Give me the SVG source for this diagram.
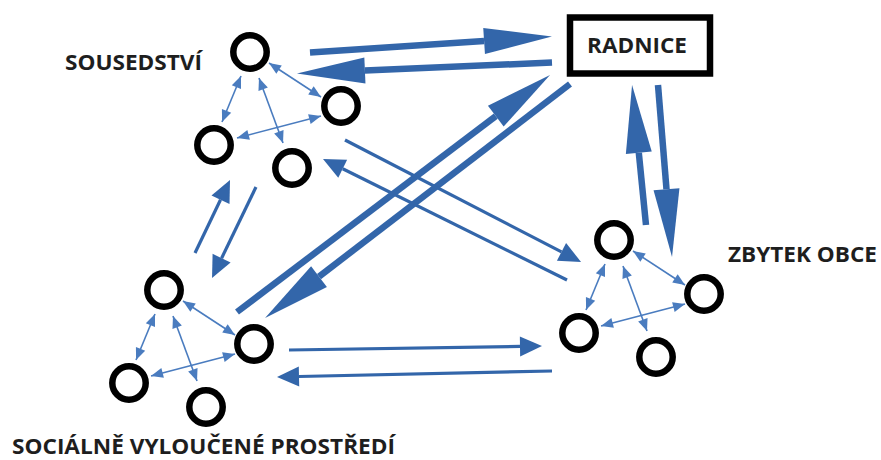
<svg xmlns="http://www.w3.org/2000/svg" width="881" height="460" viewBox="0 0 881 460">
  <style>
    .node { fill: none; stroke: #000; stroke-width: 6.5; }
    .lbl { font-family: "Open Sans", "Liberation Sans", sans-serif; font-weight: bold; font-size: 21px; fill: #1e1e1e; }
    .big { stroke: #3366aa; stroke-width: 6.5; fill: none; marker-end: url(#headBig); }
    .mid { stroke: #3366aa; stroke-width: 3.2; fill: none; marker-end: url(#headMid); }
    .small { stroke: #4a7cbf; stroke-width: 1.6; fill: none; marker-start: url(#headSmall); marker-end: url(#headSmall); }
  </style>
  <defs>
    <!-- heads anchored at their base so the shaft stops there -->
    <marker id="headBig" markerUnits="userSpaceOnUse" markerWidth="70" markerHeight="28" refX="0" refY="13" orient="auto" overflow="visible">
      <path d="M0,0 L68,13 L0,26 Z" fill="#3366aa"/>
    </marker>
    <marker id="headMid" markerUnits="userSpaceOnUse" markerWidth="24" markerHeight="20" refX="0" refY="10" orient="auto" overflow="visible">
      <path d="M0,0 L22,10 L0,20 Z" fill="#3366aa"/>
    </marker>
    <marker id="headSmall" markerUnits="userSpaceOnUse" markerWidth="13" markerHeight="11" refX="12" refY="5" orient="auto-start-reverse" overflow="visible">
      <path d="M0,0 L12,5 L0,10 Z" fill="#4a7cbf"/>
    </marker>
    <!-- links inside one group of four, relative to its top circle -->
    <g id="innerLinks">
      <line class="small" x1="19" y1="11" x2="71" y2="45"/>
      <line class="small" x1="-9" y1="24" x2="-28" y2="70"/>
      <line class="small" x1="9" y1="26" x2="33" y2="91"/>
      <line class="small" x1="-13" y1="86" x2="71" y2="64"/>
    </g>
  </defs>

  <rect width="881" height="460" fill="#fff"/>

  <g id="connectors">
    <use href="#innerLinks" transform="translate(250,52)"/>
    <use href="#innerLinks" transform="translate(164,290)"/>
    <use href="#innerLinks" transform="translate(614,240)"/>

    <!-- town hall <-> neighbourhood -->
    <line class="big" x1="310" y1="52.5" x2="484.1" y2="41"/>
    <line class="big" x1="552" y1="62.5" x2="364.9" y2="70.6"/>
    <!-- town hall <-> excluded area -->
    <line class="big" x1="237" y1="312" x2="495.8" y2="116.1"/>
    <line class="big" x1="570" y1="84" x2="319" y2="276.6"/>
    <!-- town hall <-> rest of town -->
    <line class="big" x1="646" y1="225" x2="638.8" y2="152.7"/>
    <line class="big" x1="658" y1="85" x2="666.5" y2="189.2"/>

    <!-- neighbourhood <-> rest of town -->
    <line class="mid" x1="345" y1="140" x2="561.5" y2="251.9"/>
    <line class="mid" x1="567" y1="280" x2="342.7" y2="168.8"/>
    <!-- excluded area <-> rest of town -->
    <line class="mid" x1="289" y1="350" x2="520" y2="346.4"/>
    <line class="mid" x1="552" y1="371" x2="299" y2="376.5"/>
    <!-- excluded area <-> neighbourhood -->
    <line class="mid" x1="195" y1="253" x2="220.5" y2="199.8"/>
    <line class="mid" x1="256" y1="187" x2="221.6" y2="258.2"/>
  </g>

  <g id="radnice">
    <rect x="570" y="17.5" width="140" height="56" fill="#fff" stroke="#000" stroke-width="6.5"/>
    <text class="lbl" x="637" y="53" text-anchor="middle" textLength="100" lengthAdjust="spacingAndGlyphs">RADNICE</text>
  </g>

  <g id="sousedstvi">
    <circle id="s1" class="node" cx="250" cy="52" r="16.7"/>
    <circle id="s2" class="node" cx="341" cy="106" r="16.7"/>
    <circle id="s3" class="node" cx="214" cy="145" r="16.7"/>
    <circle id="s4" class="node" cx="292" cy="168" r="16.7"/>
    <text class="lbl" x="65" y="70" textLength="137" lengthAdjust="spacingAndGlyphs">SOUSEDSTVÍ</text>
  </g>

  <g id="socialne-vyloucene">
    <circle id="v1" class="node" cx="164" cy="290" r="16.7"/>
    <circle id="v2" class="node" cx="254" cy="344" r="16.7"/>
    <circle id="v3" class="node" cx="129" cy="383" r="16.7"/>
    <circle id="v4" class="node" cx="206" cy="407" r="16.7"/>
    <text class="lbl" x="12" y="454" textLength="383" lengthAdjust="spacingAndGlyphs">SOCIÁLNĚ VYLOUČENÉ PROSTŘEDÍ</text>
  </g>

  <g id="zbytek-obce">
    <circle id="z1" class="node" cx="614" cy="240" r="16.7"/>
    <circle id="z2" class="node" cx="704" cy="294" r="16.7"/>
    <circle id="z3" class="node" cx="579" cy="333" r="16.7"/>
    <circle id="z4" class="node" cx="656" cy="357" r="16.7"/>
    <text class="lbl" x="728" y="262" textLength="149" lengthAdjust="spacingAndGlyphs">ZBYTEK OBCE</text>
  </g>
</svg>
